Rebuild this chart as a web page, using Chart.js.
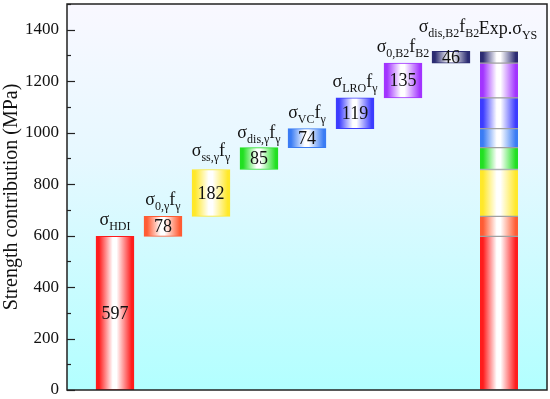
<!DOCTYPE html>
<html>
<head>
<meta charset="utf-8">
<script src="https://cdn.jsdelivr.net/npm/chart.js@4"></script>
<style>
  html, body { margin: 0; padding: 0; background: #fff; }
  #wrap { width: 550px; height: 399px; }
</style>
</head>
<body>
<div id="wrap"><canvas id="strengthChart"></canvas></div>
<script>
// Strength contributions (MPa), left to right
const contributions = [597, 78, 182, 85, 74, 119, 135, 46];
// Label pieces: [text, isSubscript]
const contributionNames = [
    [['σ', 0], ['HDI', 1]],
    [['σ', 0], ['0,γ', 1], ['f', 0], ['γ', 1]],
    [['σ', 0], ['ss,γ', 1], ['f', 0], ['γ', 1]],
    [['σ', 0], ['dis,γ', 1], ['f', 0], ['γ', 1]],
    [['σ', 0], ['VC', 1], ['f', 0], ['γ', 1]],
    [['σ', 0], ['LRO', 1], ['f', 0], ['γ', 1]],
    [['σ', 0], ['0,B2', 1], ['f', 0], ['B2', 1]],
    [['σ', 0], ['dis,B2', 1], ['f', 0], ['B2', 1]]
];
const totalName = [['Exp.σ', 0], ['YS', 1]];
const categories = ['', 'HDI', '0,γ', 'ss,γ', 'dis,γ', 'VC', 'LRO', '0,B2', 'dis,B2', 'Exp', ''];
const yMin = 0;
const yMax = 1500;
const yStep = 100;
const yLabelStep = 200;

// Styles
const barColors = ['#ff1c1c', '#ff5c34', '#ffe82a', '#22e022', '#3a7cf4', '#3c3cff', '#a234ff', '#2c2c72'];
const nameLift = [7, 7, 9, 6, 7, 7, 7, 15];
const nameShift = [0, 0, 0, 0, 0, 0, 0, -2];
const totalLift = 13;
const totalShift = 9;
const FONT = '"Liberation Serif", "Times New Roman", serif';
const TOTAL_INDEX = 9;

// Floating ranges built from the running sum
let running = 0;
const ranges = contributions.map(v => {
    const r = [running, running + v];
    running += v;
    return r;
});

function barGradient(context) {
    const chart = context.chart;
    const color = barColors[context.datasetIndex];
    if (!chart.chartArea || !chart.scales.x) return color;
    const cx = chart.scales.x.getPixelForValue(context.dataIndex);
    const half = 19;
    const g = chart.ctx.createLinearGradient(cx - half, 0, cx + half, 0);
    g.addColorStop(0, color);
    g.addColorStop(0.08, color);
    g.addColorStop(0.44, '#ffffff');
    g.addColorStop(0.54, '#ffffff');
    g.addColorStop(0.94, color);
    g.addColorStop(1, color);
    return g;
}

const datasets = contributions.map((v, i) => {
    const data = new Array(categories.length).fill(null);
    data[i + 1] = ranges[i];
    data[TOTAL_INDEX] = ranges[i];
    return {
        label: categories[i + 1],
        data: data,
        grouped: false,
        barThickness: 38,
        backgroundColor: barGradient,
        borderColor: ctx => ctx.dataIndex === TOTAL_INDEX ? '#a0a0a0' : barColors[ctx.datasetIndex],
        borderWidth: ctx => ctx.dataIndex === TOTAL_INDEX ? { top: 1, bottom: 1, left: 0, right: 0 } : 1,
        borderSkipped: false
    };
});

// Draw text with subscripts, centred on cx
function drawRich(ctx, parts, cx, baseline, size, subSize) {
    const widths = parts.map(p => {
        ctx.font = `${p[1] ? subSize : size}px ${FONT}`;
        return ctx.measureText(p[0]).width;
    });
    let x = cx - widths.reduce((a, b) => a + b, 0) / 2;
    ctx.textAlign = 'left';
    ctx.textBaseline = 'alphabetic';
    parts.forEach((p, k) => {
        ctx.font = `${p[1] ? subSize : size}px ${FONT}`;
        ctx.fillText(p[0], x, p[1] ? baseline + 5 : baseline);
        x += widths[k];
    });
}

const backgroundPlugin = {
    id: 'plotBackground',
    beforeDraw(chart) {
        const { ctx, chartArea: a } = chart;
        const g = ctx.createLinearGradient(0, a.top, 0, a.bottom);
        g.addColorStop(0, '#f9f8ff');
        g.addColorStop(0.4, '#e6f8ff');
        g.addColorStop(1, '#b2ffff');
        ctx.save();
        ctx.fillStyle = g;
        ctx.fillRect(a.left, a.top, a.right - a.left, a.bottom - a.top);
        ctx.restore();
    }
};

const labelPlugin = {
    id: 'barLabels',
    afterDatasetsDraw(chart) {
        const ctx = chart.ctx;
        ctx.save();
        ctx.fillStyle = '#111';
        contributions.forEach((v, i) => {
            const bar = chart.getDatasetMeta(i).data[i + 1];
            ctx.font = `18px ${FONT}`;
            ctx.textAlign = 'center';
            ctx.textBaseline = 'middle';
            ctx.fillText(String(v), bar.x, (bar.y + bar.base) / 2 + 1);
            drawRich(ctx, contributionNames[i], bar.x + nameShift[i], bar.y - nameLift[i] - 4, 18, 12);
        });
        const top = chart.getDatasetMeta(contributions.length - 1).data[TOTAL_INDEX];
        drawRich(ctx, totalName, top.x + totalShift, top.y - totalLift - 4, 18, 12);
        ctx.restore();
    }
};

// Frame and inward ticks (major + minor)
const framePlugin = {
    id: 'frameTicks',
    afterDraw(chart) {
        const { ctx, chartArea: a, scales } = chart;
        ctx.save();
        ctx.strokeStyle = '#222';
        ctx.lineWidth = 1.5;
        ctx.strokeRect(a.left, a.top, a.right - a.left, a.bottom - a.top);
        ctx.lineWidth = 1.2;
        for (let v = yMin; v <= yMax; v += yStep) {
            const y = Math.round(scales.y.getPixelForValue(v)) + 0.5;
            const len = v % yLabelStep === 0 ? 8 : 4;
            ctx.beginPath();
            ctx.moveTo(a.left, y);
            ctx.lineTo(a.left + len, y);
            ctx.stroke();
        }
        ctx.restore();
    }
};

new Chart(document.getElementById('strengthChart'), {
    type: 'bar',
    data: { labels: categories, datasets: datasets },
    options: {
        responsive: true,
        maintainAspectRatio: false,
        animation: false,
        layout: { padding: { top: 4, right: 3, bottom: 9, left: 0 } },
        plugins: {
            legend: { display: false },
            tooltip: { enabled: false }
        },
        scales: {
            x: {
                display: false,
                offset: false
            },
            y: {
                min: yMin,
                max: yMax,
                grid: { display: false, drawTicks: false },
                border: { display: false },
                afterFit: s => {
                    s.width = 67;
                    s.paddingTop = 0;
                    s.paddingBottom = 0;
                },
                ticks: {
                    stepSize: yStep,
                    padding: 8,
                    color: '#111',
                    font: { family: FONT, size: 17 },
                    callback: v => v % yLabelStep === 0 && v < yMax ? v : ''
                },
                title: {
                    display: true,
                    text: 'Strength contribution (MPa)',
                    color: '#111',
                    font: { family: FONT, size: 20 },
                    padding: { top: 0, bottom: 0 }
                }
            }
        }
    },
    plugins: [backgroundPlugin, labelPlugin, framePlugin]
});
</script>
</body>
</html>
